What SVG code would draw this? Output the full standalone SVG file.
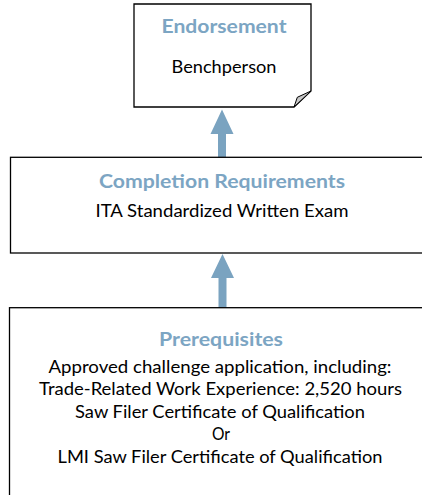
<svg xmlns="http://www.w3.org/2000/svg" width="422" height="495" viewBox="0 0 422 495">
  <style>
    .box { fill: #ffffff; stroke: #000000; stroke-width: 1.3; }
    .fold { fill: #c8c8c8; stroke: #000000; stroke-width: 1; stroke-linejoin: round; }
    .arrow { fill: #7aa3c0; stroke: none; }
    .title { font-family: Lato, "Open Sans", sans-serif; font-weight: bold; font-size: 18px; fill: #7ca5c3; text-anchor: middle; }
    .body { font-family: Lato, "Open Sans", sans-serif; font-size: 18px; fill: #000000; text-anchor: middle; }
  </style>
  <rect width="422" height="495" fill="#ffffff"/>

  <!-- upward connectors between stages -->
  <g id="connectors">
    <path class="arrow" d="M222,109.5 L233.5,134 L226,134 L226,157 L218,157 L218,134 L210.5,134 Z"/>
    <path class="arrow" d="M222.5,254 L234,278 L226.5,278 L226.5,308 L218.5,308 L218.5,278 L211,278 Z"/>
  </g>

  <!-- top: endorsement note with folded corner -->
  <g id="endorsement">
    <path class="box" d="M134,4 H311 V91 L294,107 H134 Z"/>
    <path class="fold" d="M311,91 L297.3,97.3 L294,107 Z"/>
    <text class="title" x="224" y="32.5" textLength="125" lengthAdjust="spacingAndGlyphs">Endorsement</text>
    <text class="body" x="224" y="73" textLength="105" lengthAdjust="spacingAndGlyphs">Benchperson</text>
  </g>

  <!-- middle: completion requirements -->
  <g id="completion">
    <rect class="box" x="10.5" y="157.3" width="425" height="95.7"/>
    <text class="title" x="222" y="188" textLength="246" lengthAdjust="spacingAndGlyphs">Completion Requirements</text>
    <text class="body" x="222" y="216.5" textLength="253" lengthAdjust="spacingAndGlyphs">ITA Standardized Written Exam</text>
  </g>

  <!-- bottom: prerequisites -->
  <g id="prerequisites">
    <rect class="box" x="9.5" y="307.7" width="426" height="200"/>
    <text class="title" x="221" y="346" textLength="124" lengthAdjust="spacingAndGlyphs">Prerequisites</text>
    <text class="body" x="220" y="372.5" textLength="343" lengthAdjust="spacingAndGlyphs">Approved challenge application, including:</text>
    <text class="body" x="220.5" y="395" textLength="363" lengthAdjust="spacingAndGlyphs">Trade-Related Work Experience: 2,520 hours</text>
    <text class="body" x="220" y="417.5" textLength="290" lengthAdjust="spacingAndGlyphs">Saw Filer Certificate of Qualification</text>
    <text class="body" x="221" y="440" textLength="18" lengthAdjust="spacingAndGlyphs">Or</text>
    <text class="body" x="220" y="462.5" textLength="325" lengthAdjust="spacingAndGlyphs">LMI Saw Filer Certificate of Qualification</text>
  </g>
</svg>
